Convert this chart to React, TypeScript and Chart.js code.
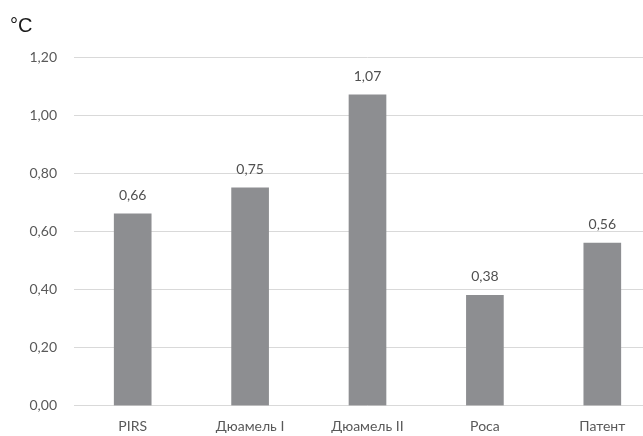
import React, { useEffect, useRef } from "react";
import { Chart, registerables } from "chart.js";

Chart.register(...registerables);

const categories = ["PIRS", "Дюамель I", "Дюамель II", "Роса", "Патент"];
const values = [0.66, 0.75, 1.07, 0.38, 0.56];
const unitLabel = "°C";

const fmt = (v: number) => v.toFixed(2).replace(".", ",");

export default function App() {
  const ref = useRef<HTMLCanvasElement | null>(null);

  useEffect(() => {
    document.body.style.margin = "0";
    document.body.style.overflow = "hidden";
    const canvas = ref.current;
    if (!canvas) return;

    const labelPlugin = {
      id: "labels",
      afterDatasetsDraw(chart: any) {
        const ctx = chart.ctx;
        const meta = chart.getDatasetMeta(0);
        ctx.save();
        ctx.fillStyle = "#505050";
        ctx.font = "14px Lato";
        ctx.textAlign = "center";
        ctx.textBaseline = "middle";
        meta.data.forEach((bar: any, i: number) => {
          ctx.fillText(fmt(values[i]), bar.x, bar.y - 18.5);
        });
        ctx.fillStyle = "#1a1a1a";
        ctx.font = "20px 'Liberation Sans'";
        ctx.textAlign = "left";
        ctx.fillText(unitLabel, 10, 26);
        ctx.restore();
      },
    };

    const chart = new Chart(canvas, {
      type: "bar",
      data: {
        labels: categories,
        datasets: [
          {
            data: values,
            backgroundColor: "#8d8e91",
            barThickness: 37,
          },
        ],
      },
      options: {
        responsive: false,
        animation: false,
        layout: { padding: { top: 57, right: 19, left: 0, bottom: 0 } },
        plugins: { legend: { display: false }, tooltip: { enabled: false } },
        scales: {
          x: {
            grid: { display: false, drawTicks: false },
            border: { display: false },
            ticks: { color: "#595959", font: { family: "Lato", size: 14 }, padding: 12 },
            afterFit: (s: any) => {
              s.height = 30.3;
            },
          },
          y: {
            min: 0,
            max: 1.2,
            grid: { color: "#d9d9d9", drawTicks: false },
            border: { display: false },
            ticks: {
              stepSize: 0.2,
              color: "#595959",
              font: { family: "Lato", size: 14 },
              padding: 17,
              callback: (v: any) => fmt(Number(v)),
            },
            afterFit: (s: any) => {
              s.width = 74;
            },
          },
        },
      },
      plugins: [labelPlugin],
    });
    return () => chart.destroy();
  }, []);

  return (
    <div style={{ width: 643, height: 436, overflow: "hidden", background: "#fff" }}>
      <canvas ref={ref} width={680} height={436} style={{ display: "block" }} />
    </div>
  );
}
